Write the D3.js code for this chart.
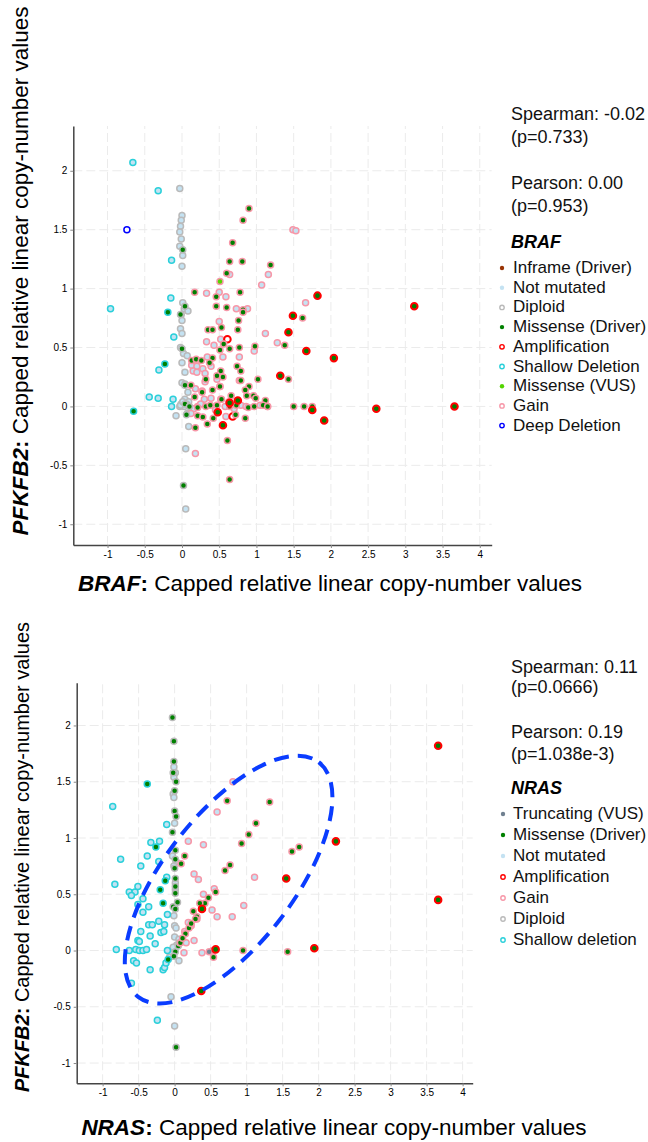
<!DOCTYPE html>
<html lang="en">
<head>
<meta charset="utf-8">
<script src="https://d3js.org/d3.v7.min.js"></script>
<style>
  body { margin: 0; background: #fff; }
  text { font-family: "Liberation Sans", Arial, sans-serif; }
</style>
</head>
<body>
<script>
// ---- tick values (shared by both panels)
const xTicks = [-1, -0.5, 0, 0.5, 1, 1.5, 2, 2.5, 3, 3.5, 4];
const yTicks = [-1, -0.5, 0, 0.5, 1, 1.5, 2];

// ---- BRAF panel points [x, y]
const brafShallowNone = [[-0.66,2.07],[-0.32,1.83],[-0.14,1.24],[-0.96,0.83],[-0.15,0.92],[-0.11,0.59],[-0.31,0.31],[-0.44,0.08],[-0.32,0.07],[-0.12,0.06],[-0.14,0.0]];
const brafShallowMis = [[-0.19,0.80],[-0.23,0.36],[-0.65,-0.04]];
const brafDeepNone = [[-0.74,1.50]];
const brafDiploidNone = [[-0.03,1.85],[0,1.62],[-0.01,1.58],[-0.02,1.53],[-0.03,1.48],[-0.01,1.42],[-0.03,1.36],[0.01,1.28],[0,1.19],[0.01,0.88],[0.03,0.83],[0.08,0.81],[-0.01,0.78],[0,0.73],[-0.02,0.66],[0,0.62],[-0.02,0.50],[0.02,0.45],[0.07,0.43],[0,0.37],[0.04,0.29],[0,0.20],[0.04,0.19],[0.08,0.12],[0.04,0.06],[-0.01,0.02],[0.03,0.0],[-0.03,0.0],[-0.08,-0.08],[0.09,-0.17],[0.05,-0.36],[0.05,-0.87],[0.09,0.04],[0.07,-0.06],[-0.02,0.01],[0.01,0.04],[0.06,0.02]];
const brafDiploidMis = [[0.01,1.33],[0.04,0.85],[-0.02,0.78],[0,0.49],[0.04,0.18],[0.04,0.02],[0.06,-0.07],[0.02,-0.67],[0.10,0.0]];
const brafGainNone = [[1.49,1.50],[1.53,1.49],[1.16,1.12],[1.07,1.03],[1.66,0.88],[1.12,0.62],[1.28,0.54],[0.97,0.47],[0.64,1.12],[0.33,0.96],[0.50,0.97],[0.59,0.93],[0.73,0.83],[0.88,0.83],[0.50,0.72],[0.52,0.57],[0.33,0.55],[0.43,0.52],[0.55,0.42],[0.77,0.42],[0.34,0.42],[0.13,0.35],[0.20,0.34],[0.28,0.32],[0.15,0.30],[0.20,0.29],[0.31,0.28],[0.39,0.34],[0.18,0.15],[0.27,0.13],[0.30,0.06],[0.18,-0.40],[0.59,-0.085],[1.05,0.01],[1.15,0.0],[0.79,0.01],[0.52,0.06],[0.39,0.07],[0.21,0.0],[0.47,0.23],[0.51,0.17],[0.77,0.22],[0.31,0.21],[0.16,-0.02],[0.12,-0.06],[0.25,0.02],[0.58,0.0],[0.70,-0.02],[0.86,0.0],[0.45,-0.03]];
const brafGainMis = [[0.90,1.68],[0.82,1.58],[0.68,1.39],[0.64,1.23],[0.81,1.23],[1.19,1.20],[0.60,1.13],[0.17,0.97],[0.78,0.97],[0.46,0.93],[0.46,0.85],[0.60,0.84],[0.82,0.82],[0.82,0.80],[0.76,0.73],[0.35,0.65],[0.41,0.65],[0.53,0.67],[0.75,0.65],[0.56,0.53],[0.51,0.48],[0.64,0.49],[0.77,0.50],[0.98,0.51],[1.38,0.52],[1.62,0.75],[0.13,0.39],[0.19,0.40],[0.26,0.39],[0.41,0.41],[0.37,0.37],[0.52,0.30],[0.74,0.34],[0.79,0.30],[0.47,0.26],[0.55,0.25],[1.02,0.23],[1.43,0.23],[0.32,0.23],[0.79,0.22],[0.12,0.18],[0.90,0.17],[0.51,0.17],[0.85,0.14],[0.41,0.14],[0.27,0.12],[0.17,0.08],[0.66,0.09],[0.96,0.09],[0.53,0.06],[0.87,0.09],[0.99,0.07],[1.12,0.05],[0.21,-0.01],[0.32,0],[0.38,0.01],[0.47,0.01],[0.63,0.04],[0.73,0.01],[0.89,-0.01],[0.97,0],[1.09,0.01],[1.15,0],[1.50,0],[1.64,0],[1.75,0],[0.21,-0.08],[0.28,-0.09],[0.42,-0.10],[0.72,-0.07],[0.85,-0.10],[0.34,-0.15],[0.18,-0.18],[0.61,-0.29],[0.64,-0.62]];
const brafAmpMis = [[1.82,0.94],[3.12,0.85],[1.49,0.77],[1.43,0.63],[1.67,0.47],[2.04,0.41],[1.32,0.26],[0.75,0.05],[0.64,0.03],[0.48,-0.05],[0.55,-0.16],[1.75,-0.03],[1.91,-0.12],[2.61,-0.02],[3.66,0.0]];
const brafAmpNone = [[0.61,0.57],[0.68,-0.085]];
const brafGainInframe = [[0.64,0.0]];
const brafGainVus = [[0.51,1.06]];

// ---- NRAS panel points [x, y]
const nrasDiploidMis = [[-0.03,2.07],[-0.01,1.86],[-0.01,1.68],[-0.02,1.58],[0.02,1.50],[0,1.42],[0,1.24],[0.02,1.19],[-0.03,1.05],[0.01,0.89],[0.01,0.81],[0,0.73],[0.01,0.64],[0.01,0.57],[0.01,0.51],[0.04,0.43],[-0.02,0.39],[0.01,0.37],[0.01,-0.01],[-0.01,-0.05],[0.02,-0.86],[0.05,0.04],[0.07,0.07]];
const nrasDiploidNone = [[-0.01,1.63],[0.01,1.58],[-0.01,1.54],[-0.02,1.39],[-0.01,1.36],[0,1.13],[-0.03,0.84],[0.02,0.79],[-0.01,0.75],[0.01,0.60],[0.01,0.54],[-0.01,0.31],[0,0.22],[0.02,0.20],[0,0.12],[0.06,0.10],[-0.03,0.01],[-0.06,-0.03],[-0.07,-0.06],[0.06,-0.09],[-0.05,-0.41],[0,-0.67],[0.03,0.05],[-0.02,0.03]];
const nrasShallowNone = [[-0.86,1.28],[-0.75,0.81],[-0.83,0.59],[-0.47,0.75],[-0.38,0.84],[-0.33,0.96],[-0.21,0.97],[-0.22,0.79],[-0.11,1.12],[-0.11,0.65],[-0.63,0.52],[-0.55,0.52],[-0.51,0.57],[-0.60,0.49],[-0.44,0.46],[-0.51,0.41],[-0.44,0.34],[-0.36,0.39],[-0.10,0.32],[-0.36,0.23],[-0.31,0.23],[-0.22,0.26],[-0.14,0.23],[-0.19,0.16],[-0.15,0.17],[-0.47,0.17],[-0.34,0.13],[-0.51,0.09],[-0.49,0.08],[-0.27,0.06],[-0.81,0.01],[-0.63,0.0],[-0.54,0.01],[-0.49,0.0],[-0.44,0.0],[-0.39,0.01],[-0.57,-0.09],[-0.53,-0.11],[-0.34,-0.17],[-0.16,-0.17],[-0.14,-0.15],[-0.12,-0.11],[-0.10,0.0],[-0.60,-0.29],[-0.24,-0.62]];
const nrasShallowMis = [[-0.38,1.48],[-0.26,0.92],[-0.20,0.54],[-0.13,0.62],[-0.16,0.42],[-0.09,-0.08]];
const nrasGainNone = [[0.81,1.50],[0.59,1.23],[0.19,0.97],[0.40,0.94],[0.27,0.68],[0.33,0.63],[1.11,0.65],[0.40,0.50],[0.55,0.55],[0.52,0.36],[0.59,0.30],[0.96,0.40],[0.80,0.30],[0.19,0.25],[0.23,0.22],[0.14,0.17],[0.16,0.07],[0.27,0.09],[0.13,-0.02],[0.38,-0.02],[0.31,0.28]];
const nrasGainMis = [[0.73,1.33],[1.32,1.32],[1.13,1.13],[1.03,1.03],[0.93,0.95],[0.14,0.84],[0.09,0.77],[0.70,0.71],[0.77,0.76],[1.63,0.88],[1.73,0.92],[0.57,0.52],[0.47,0.47],[0.42,0.42],[0.35,0.42],[0.26,0.35],[0.31,0.30],[0.29,0.28],[0.20,0.20],[0.15,0.15],[0.08,0.07],[0.53,0.0],[0.54,-0.06],[0.95,0.0],[1.57,-0.01],[0.11,0.11],[0.23,0.24]];
const nrasAmpMis = [[3.66,1.82],[2.24,0.97],[1.55,0.64],[3.66,0.45],[1.94,0.02],[0.57,0.01],[0.38,0.37],[0.37,-0.36]];
const nrasGainTrunc = [[0.48,-0.01]];

// ---- texts
const brafStats = ["Spearman: -0.02", "(p=0.733)", "Pearson: 0.00", "(p=0.953)"];
const brafLegend = ["Inframe (Driver)", "Not mutated", "Diploid", "Missense (Driver)", "Amplification", "Shallow Deletion", "Missense (VUS)", "Gain", "Deep Deletion"];
const nrasStats = ["Spearman: 0.11", "(p=0.0666)", "Pearson: 0.19", "(p=1.038e-3)"];
const nrasLegend = ["Truncating (VUS)", "Missense (Driver)", "Not mutated", "Amplification", "Gain", "Diploid", "Shallow deletion"];

// colours
const mutColor = {none: "#c4e2f2", mis: "#008000", vus: "#53d400", inframe: "#993404", trunc: "#708090"};
const cnaColor = {amp: "#ff0000", gain: "#f797a8", diploid: "#bababa", shallow: "#2ad0da", deep: "#0000ff"};
const legendStyle = {
  "Inframe (Driver)": {fill: mutColor.inframe}, "Not mutated": {fill: mutColor.none},
  "Missense (Driver)": {fill: mutColor.mis}, "Missense (VUS)": {fill: mutColor.vus},
  "Truncating (VUS)": {fill: mutColor.trunc},
  "Diploid": {stroke: cnaColor.diploid}, "Amplification": {stroke: cnaColor.amp},
  "Shallow Deletion": {stroke: cnaColor.shallow}, "Shallow deletion": {stroke: cnaColor.shallow},
  "Gain": {stroke: cnaColor.gain}, "Deep Deletion": {stroke: cnaColor.deep}
};

const svg = d3.select("body").append("svg")
  .attr("width", 648).attr("height", 1142);

function drawPanel(p) {
  const x = d3.scaleLinear().domain(p.xDomain).range(p.xRange);
  const y = d3.scaleLinear().domain(p.yDomain).range(p.yRange);
  const g = svg.append("g");

  // dashed grid
  g.selectAll(".vg").data(xTicks).enter().append("line")
    .attr("x1", d => x(d)).attr("x2", d => x(d))
    .attr("y1", p.yRange[0]).attr("y2", p.yRange[1])
    .attr("stroke", "#ebebeb").attr("stroke-dasharray", "9,4");
  g.selectAll(".hg").data(yTicks).enter().append("line")
    .attr("y1", d => y(d)).attr("y2", d => y(d))
    .attr("x1", p.xRange[0]).attr("x2", p.xRange[1])
    .attr("stroke", "#ebebeb").attr("stroke-dasharray", "9,4");

  // axes
  const xAxis = g.append("g").attr("transform", "translate(0," + p.yRange[0] + ")")
    .call(d3.axisBottom(x).tickValues(xTicks).tickFormat(d => String(d)).tickSize(3).tickPadding(3).tickSizeOuter(0));
  const yAxis = g.append("g").attr("transform", "translate(" + p.xRange[0] + ",0)")
    .call(d3.axisLeft(y).tickValues(yTicks).tickFormat(d => String(d)).tickSize(3).tickPadding(3).tickSizeOuter(0));
  [xAxis, yAxis].forEach(a => {
    a.select(".domain").attr("stroke", "#444").attr("stroke-width", 1.5);
    a.selectAll(".tick line").attr("stroke", "#888");
    a.selectAll("text").attr("font-size", 10).attr("fill", "#000")
      .attr("font-family", "Liberation Sans, Arial, sans-serif");
  });

  // points
  p.series.forEach(s => {
    const amp = s.cna === "amp";
    g.append("g").selectAll("circle").data(s.pts).enter().append("circle")
      .attr("cx", d => x(d[0])).attr("cy", d => y(d[1]))
      .attr("r", amp ? 3.3 : 3)
      .attr("fill", s.mut ? mutColor[s.mut] : "#fff")
      .attr("stroke", cnaColor[s.cna])
      .attr("stroke-width", amp ? 2 : 1.5);
  });

  // optional annotation ellipse
  if (p.ellipse) {
    const e = p.ellipse;
    g.append("ellipse")
      .attr("transform", "translate(" + x(e.cx) + "," + y(e.cy) + ") rotate(" + e.angle + ")")
      .attr("rx", e.rx).attr("ry", e.ry)
      .attr("fill", "none").attr("stroke", "#0a3cff")
      .attr("stroke-width", 4).attr("stroke-dasharray", "15,9");
  }

  // axis titles
  const xt = svg.append("text").attr("x", p.xLabelX).attr("y", p.xLabelY)
    .attr("text-anchor", "middle").attr("font-size", p.labelSize);
  xt.append("tspan").attr("font-weight", "bold").attr("font-style", "italic").text(p.gene);
  xt.append("tspan").attr("font-weight", "bold").text(":");
  xt.append("tspan").text(" Capped relative linear copy-number values");

  const yt = svg.append("text")
    .attr("transform", "translate(" + p.yLabelX + "," + p.yLabelY + ") rotate(-90)")
    .attr("text-anchor", "middle").attr("font-size", p.yLabelSize);
  yt.append("tspan").attr("font-weight", "bold").attr("font-style", "italic").text("PFKFB2");
  yt.append("tspan").attr("font-weight", "bold").text(":");
  yt.append("tspan").text(" Capped relative linear copy-number values");

  // stats
  svg.selectAll(null).data(p.stats).enter().append("text")
    .attr("x", 511).attr("y", (d, i) => p.statY[i])
    .attr("font-size", 18).attr("fill", "#111").text(d => d);

  // legend
  svg.append("text").attr("x", 511).attr("y", p.titleY)
    .attr("font-size", 18).attr("font-weight", "bold").attr("font-style", "italic").text(p.gene);
  const lg = svg.append("g").selectAll("g").data(p.legend).enter().append("g")
    .attr("transform", (d, i) => "translate(0," + (p.legendY + i * p.legendStep) + ")");
  lg.append("circle").attr("cx", p.markX).attr("cy", -5).attr("r", 2.2)
    .attr("fill", d => legendStyle[d].fill || "#fff")
    .attr("stroke", d => legendStyle[d].stroke || "none")
    .attr("stroke-width", 1.4);
  lg.append("text").attr("x", 513).attr("font-size", 17).attr("fill", "#111").text(d => d);
}

drawPanel({
  gene: "BRAF",
  xDomain: [-1.46, 4.16], xRange: [73.3, 491.7],
  yDomain: [-1.176, 2.38], yRange: [545, 126],
  series: [
    {pts: brafDiploidNone, mut: "none", cna: "diploid"},
    {pts: brafShallowNone, mut: "none", cna: "shallow"},
    {pts: brafDeepNone, mut: null, cna: "deep"},
    {pts: brafGainNone, mut: "none", cna: "gain"},
    {pts: brafAmpNone, mut: null, cna: "amp"},
    {pts: brafDiploidMis, mut: "mis", cna: "diploid"},
    {pts: brafShallowMis, mut: "mis", cna: "shallow"},
    {pts: brafGainMis, mut: "mis", cna: "gain"},
    {pts: brafGainVus, mut: "vus", cna: "gain"},
    {pts: brafGainInframe, mut: "inframe", cna: "gain"},
    {pts: brafAmpMis, mut: "mis", cna: "amp"}
  ],
  xLabelX: 330, xLabelY: 591, labelSize: 22.5,
  yLabelX: 28, yLabelY: 271, yLabelSize: 22.5,
  stats: brafStats, statY: [120, 143, 189, 212],
  titleY: 248, legend: brafLegend, legendY: 273, legendStep: 19.7, markX: 502
});

drawPanel({
  gene: "NRAS",
  xDomain: [-1.36, 4.14], xRange: [76.7, 472.7],
  yDomain: [-1.18, 2.38], yRange: [1083.3, 682.7],
  series: [
    {pts: nrasDiploidNone, mut: "none", cna: "diploid"},
    {pts: nrasShallowNone, mut: "none", cna: "shallow"},
    {pts: nrasGainNone, mut: "none", cna: "gain"},
    {pts: nrasDiploidMis, mut: "mis", cna: "diploid"},
    {pts: nrasShallowMis, mut: "mis", cna: "shallow"},
    {pts: nrasGainMis, mut: "mis", cna: "gain"},
    {pts: nrasGainTrunc, mut: "trunc", cna: "gain"},
    {pts: nrasAmpMis, mut: "mis", cna: "amp"}
  ],
  ellipse: {cx: 0.75, cy: 0.63, rx: 148, ry: 65, angle: -52.5},
  xLabelX: 334, xLabelY: 1135, labelSize: 22.5,
  yLabelX: 29, yLabelY: 857, yLabelSize: 20,
  stats: nrasStats, statY: [673, 693, 738, 760],
  titleY: 794, legend: nrasLegend, legendY: 819, legendStep: 21, markX: 503
});
</script>
</body>
</html>
